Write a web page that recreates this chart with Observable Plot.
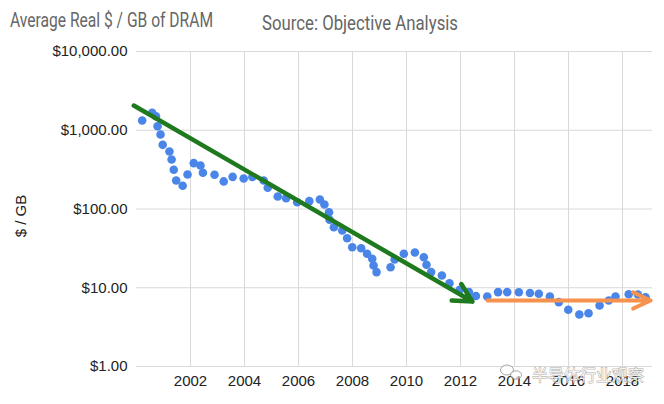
<!DOCTYPE html>
<html><head><meta charset="utf-8">
<script src="https://cdn.jsdelivr.net/npm/d3@7"></script>
<script src="https://cdn.jsdelivr.net/npm/@observablehq/plot@0.6"></script>
<style>
body{margin:0;background:#fff;width:664px;height:404px;overflow:hidden;position:relative;font-family:"Liberation Sans",Arial,sans-serif}
#header{display:block}
#chart svg{display:block}
#wm{position:absolute;left:0;top:0;pointer-events:none}
</style></head><body>
<svg id="header" width="664" height="40">
<text x="10" y="27" textLength="203" lengthAdjust="spacingAndGlyphs" font-family="Roboto" font-size="20" fill="#666">Average Real $ / GB of DRAM</text>
<text x="262" y="30" textLength="196" lengthAdjust="spacingAndGlyphs" font-family="Roboto" font-size="21" fill="#666">Source: Objective Analysis</text>
</svg>
<div id="chart"></div>
<svg id="wm" width="664" height="404">
<text transform="translate(26,216) rotate(-90)" text-anchor="middle" font-family="Liberation Sans, Arial, sans-serif" font-size="15" fill="#222">$ / GB</text>
<ellipse cx="507" cy="370" rx="6.5" ry="5" fill="rgba(255,255,255,0.6)" stroke="rgba(110,110,110,0.6)" stroke-width="1"/>
<ellipse cx="516" cy="375" rx="5.5" ry="4.2" fill="rgba(255,255,255,0.6)" stroke="rgba(110,110,110,0.6)" stroke-width="1"/>
<text x="532" y="381" font-family="Noto Sans CJK SC" font-size="16" fill="rgba(255,255,255,0.85)" stroke="rgba(90,90,90,0.55)" stroke-width="0.9" paint-order="stroke">半导体行业观察</text>
</svg>
<script>
const years = [2000.21,2000.58,2000.72,2000.78,2000.89,2000.97,2001.22,2001.30,2001.38,2001.47,2001.71,2001.89,
  2002.12,2002.37,2002.46,2002.89,2003.23,2003.56,2003.97,2004.29,2004.71,2004.86,2005.23,2005.54,2005.95,
  2006.40,2006.79,2006.96,2007.13,2007.15,2007.31,2007.62,2007.80,2007.99,2008.32,2008.54,2008.73,2008.78,2008.89,
  2009.41,2009.56,2009.90,2010.31,2010.64,2010.74,2010.91,2011.31,2011.59,2011.97,2012.31,2012.57,2012.99,
  2013.39,2013.73,2014.16,2014.57,2014.90,2015.31,2015.64,2015.99,2016.40,2016.74,2017.15,2017.49,2017.74,
  2018.23,2018.57,2018.85];
const prices = [1330,1666,1507,1125,883,653,537,425,315,230,197,274,
  382,357,288,272,224,256,244,255,230,186,144,137,122,
  126,132,114,91,73,58.7,53.3,42.6,32.7,31.8,27,23.3,19.2,15.8,
  18.2,22.8,27,28,24.4,19.6,15.8,14.3,11.4,9.4,8.8,7.86,7.74,
  8.8,8.8,8.77,8.58,8.38,7.74,6.56,5.25,4.57,4.75,5.96,6.89,7.74,
  8.28,8.2,7.59];
const xTicks = [2002,2004,2006,2008,2010,2012,2014,2016,2018];
const yTicks = [1,10,100,1000,10000];
const declineYears = [1999.9, 2012.44];
const declineValues = [2060, 6.68];
const flatYears = [2013.0, 2019.04];
const flatValues = [6.9, 6.9];

const data = years.map((y,i)=>({year:y, price:prices[i]}));
const decline = [{x1:declineYears[0], y1:declineValues[0], x2:declineYears[1], y2:declineValues[1]}];
const flat = [{x1:flatYears[0], y1:flatValues[0], x2:flatYears[1], y2:flatValues[1]}];
const money = d3.format(",.2f");

const chart = Plot.plot({
  width: 664, height: 364,
  marginLeft: 136, marginRight: 12, marginTop: 11, marginBottom: 38,
  style: {fontFamily: "Liberation Sans, Arial, sans-serif", fontSize: "15px", color: "#222", background: "#fff"},
  x: {domain: [2000, 2019.11], ticks: xTicks, tickFormat: d => String(d), tickSize: 0, tickPadding: 9, label: null},
  y: {type: "log", domain: [1, 10000], ticks: yTicks, tickFormat: d => "$" + money(d), tickSize: 0, tickPadding: 9, label: null},
  marks: [
    Plot.ruleY(yTicks, {stroke: "#d9d9d9"}),
    Plot.ruleX(xTicks, {stroke: "#d9d9d9"}),
    Plot.dot(data, {x: "year", y: "price", r: 4.3, fill: "#4a86e8"}),
    Plot.arrow(decline, {x1: "x1", y1: "y1", x2: "x2", y2: "y2", stroke: "#1f7a1f", strokeWidth: 4.5, headLength: 6.9, headAngle: 55}),
    Plot.arrow(flat, {x1: "x1", y1: "y1", x2: "x2", y2: "y2", stroke: "#f6924d", strokeWidth: 4, headLength: 7.2, headAngle: 50})
  ]
});
document.getElementById("chart").appendChild(chart);
</script>
</body></html>
